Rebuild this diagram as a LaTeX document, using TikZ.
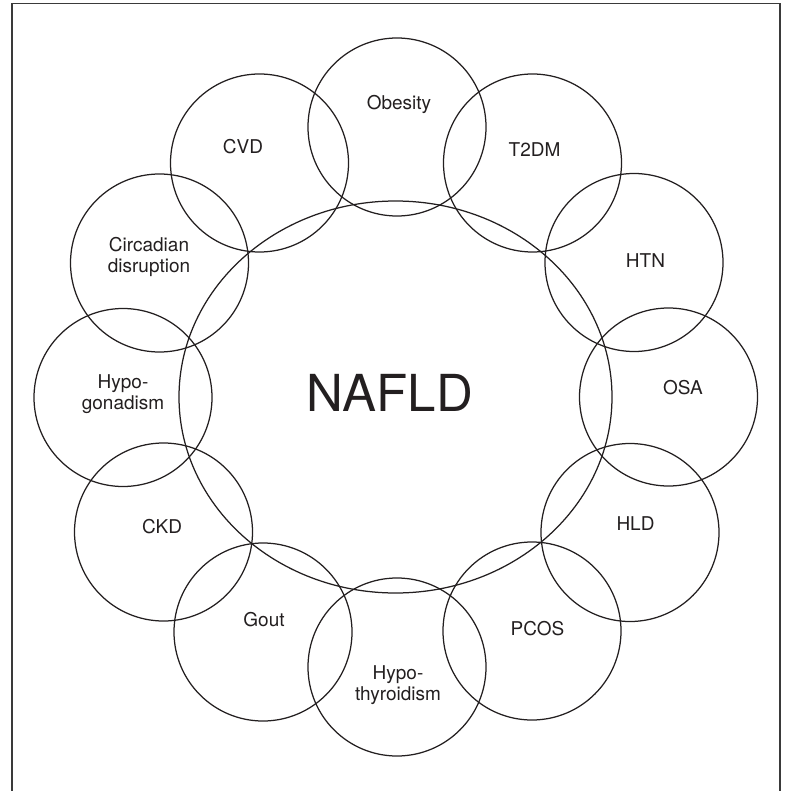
\documentclass[tikz,border=0pt]{standalone}
\usepackage{fontspec}
\setmainfont{TeX Gyre Heros}
\usetikzlibrary{shapes.geometric}
\definecolor{ink}{HTML}{231F20}
\definecolor{frame}{HTML}{3A3A3A}
\tikzset{
  ring/.style={circle, draw=ink, line width=1.25pt, minimum size=178pt, inner sep=0pt},
  big/.style={ellipse, draw=ink, line width=1.25pt, minimum width=433pt, minimum height=392pt, inner sep=0pt},
  lbl/.style={text=ink, font=\fontsize{19}{21}\selectfont, align=center, inner sep=0pt},
  title/.style={text=ink, font=\fontsize{51}{55}\selectfont, inner sep=0pt}
}
\begin{document}
\begin{tikzpicture}[x=1pt,y=-1pt]
\useasboundingbox (0,0) rectangle (785,791);
% frame (open at bottom)
\draw[frame, line width=1.4pt] (12,791) coordinate (fl) -- (12,3.5) coordinate (ftl) -- (780,3.5) coordinate (ftr) -- (780,791) coordinate (fr);
% central ellipse
\node[big] (nafld) at (395.5,397) {};
% satellite circles
\node[ring] (obesity) at (397,127) {};
\node[ring] (t2dm) at (532.5,163) {};
\node[ring] (htn) at (634,262.5) {};
\node[ring] (osa) at (668.5,397) {};
\node[ring] (hld) at (630,532.5) {};
\node[ring] (pcos) at (532,631) {};
\node[ring] (hypot) at (397,667) {};
\node[ring] (gout) at (263,632) {};
\node[ring] (ckd) at (163.5,532) {};
\node[ring] (hypog) at (123,397.5) {};
\node[ring] (circ) at (159.5,263) {};
\node[ring] (cvd) at (259.5,163) {};
% labels
\node[title, anchor=base] (tnafld) at (389.7,411) {NAFLD};
\node[lbl] (lobesity) at (399,104) {Obesity};
\node[lbl] (lcvd) at (243,147) {CVD};
\node[lbl] (lt2dm) at (534.5,150) {T2DM};
\node[lbl] (lcirc) at (149,257) {Circadian\\disruption};
\node[lbl] (lhtn) at (645.5,261) {HTN};
\node[lbl] (lhypog) at (123,394) {Hypo-\\gonadism};
\node[lbl] (losa) at (683,388) {OSA};
\node[lbl] (lckd) at (162,527) {CKD};
\node[lbl] (lhld) at (635.5,524) {HLD};
\node[lbl] (lgout) at (264,620) {Gout};
\node[lbl] (lpcos) at (537.5,629) {PCOS};
\node[lbl] (lhypot) at (398,685) {Hypo-\\thyroidism};
\end{tikzpicture}
\end{document}
